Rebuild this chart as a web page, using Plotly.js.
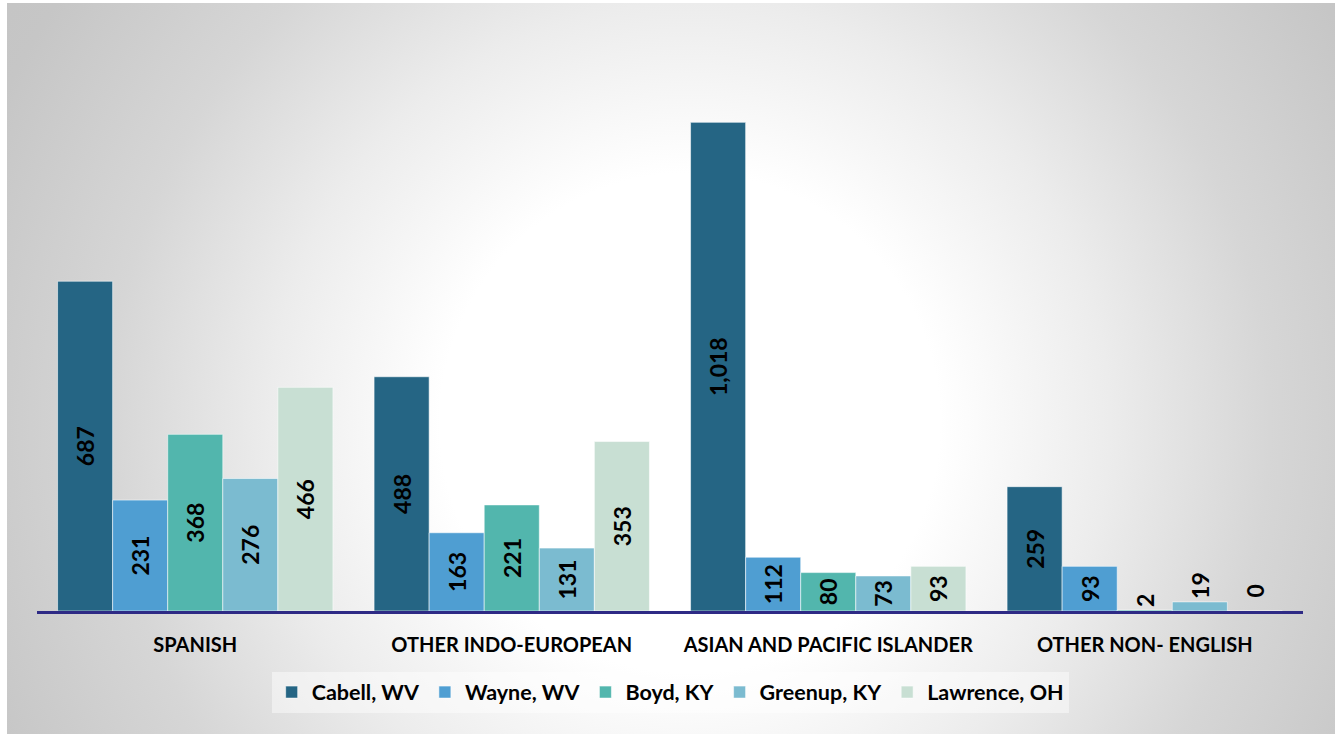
<!DOCTYPE html>
<html>
<head>
<meta charset="utf-8">
<script src="https://cdn.plot.ly/plotly-3.0.1.min.js"></script>
<style>
  html, body { margin: 0; padding: 0; background: #ffffff; }
  #frame {
    position: absolute; left: 7px; top: 3px; width: 1328px; height: 731px;
    background: radial-gradient(circle at 683px 420px, #ffffff 0px, #ffffff 250px, #ececec 420px, #d6d6d6 580px, #c6c6c6 760px, #c2c2c2 900px);
  }
  #chart { position: absolute; left: 0; top: 0; width: 1335px; height: 734px; }
</style>
</head>
<body>
<div id="frame"></div>
<div id="chart"></div>
<script>
const categories = ["SPANISH", "OTHER INDO-EUROPEAN", "ASIAN AND PACIFIC ISLANDER", "OTHER NON- ENGLISH"];
const seriesNames = ["Cabell, WV", "Wayne, WV", "Boyd, KY", "Greenup, KY", "Lawrence, OH"];
const cabell   = [687, 488, 1018, 259];
const wayne    = [231, 163, 112, 93];
const boyd     = [368, 221, 80, 2];
const greenup  = [276, 131, 73, 19];
const lawrence = [466, 353, 93, 0];

const seriesValues = [cabell, wayne, boyd, greenup, lawrence];
const colors = ["#256584", "#4f9ed2", "#52b6ad", "#7bbbd0", "#c8dfd3"];
const FONT = "Lato, 'Open Sans', sans-serif";
const BARGAP = 0.13;
const labelFont = { family: FONT, size: 23, color: "#000000", weight: "bold" };

const traces = seriesValues.map((vals, i) => ({
  type: "bar",
  name: seriesNames[i],
  x: categories,
  y: vals,
  marker: { color: colors[i], line: { color: "rgba(255,255,255,0.55)", width: 1 } },
  texttemplate: "%{y:,}",
  textposition: "auto",
  insidetextanchor: "middle",
  textangle: -90,
  constraintext: "none",
  textfont: labelFont,
  insidetextfont: labelFont,
  outsidetextfont: labelFont,
  cliponaxis: false,
  hoverinfo: "x+y+name"
}));

// Plotly draws no text on zero-height bars: label those with annotations placed at the bar's slot
const nSeries = seriesValues.length;
const slot = (1 - BARGAP) / nSeries;
const annotations = [];
seriesValues.forEach((vals, i) => {
  vals.forEach((v, j) => {
    if (v === 0) {
      annotations.push({
        xref: "x", yref: "y",
        x: j + (i - (nSeries - 1) / 2) * slot,
        y: v,
        text: String(v),
        textangle: -90,
        showarrow: false,
        yanchor: "bottom",
        yshift: 12,
        font: labelFont
      });
    }
  });
});

const layout = {
  width: 1335,
  height: 734,
  paper_bgcolor: "rgba(0,0,0,0)",
  plot_bgcolor: "rgba(0,0,0,0)",
  margin: { l: 37, r: 32, t: 35, b: 123 },
  barmode: "group",
  bargap: BARGAP,
  bargroupgap: 0,
  showlegend: true,
  legend: {
    orientation: "h",
    xref: "container", yref: "container",
    x: 0.502, xanchor: "center",
    y: 0.085, yanchor: "top",
    bgcolor: "rgba(255,255,255,0.45)",
    font: { family: FONT, size: 21.5, color: "#000000", weight: "bold" },
    itemwidth: 30,
    traceorder: "normal"
  },
  xaxis: {
    type: "category",
    showline: true,
    linecolor: "#2e2a85",
    linewidth: 3,
    showgrid: false,
    zeroline: false,
    ticks: "outside",
    ticklen: 14,
    tickcolor: "rgba(0,0,0,0)",
    automargin: false,
    tickfont: { family: FONT, size: 20, color: "#000000", weight: "bold" }
  },
  yaxis: {
    range: [0, 1200],
    visible: false,
    showgrid: false,
    zeroline: false,
    fixedrange: true
  },
  annotations: annotations
};

Plotly.newPlot("chart", traces, layout, { displayModeBar: false, staticPlot: true });
</script>
</body>
</html>
